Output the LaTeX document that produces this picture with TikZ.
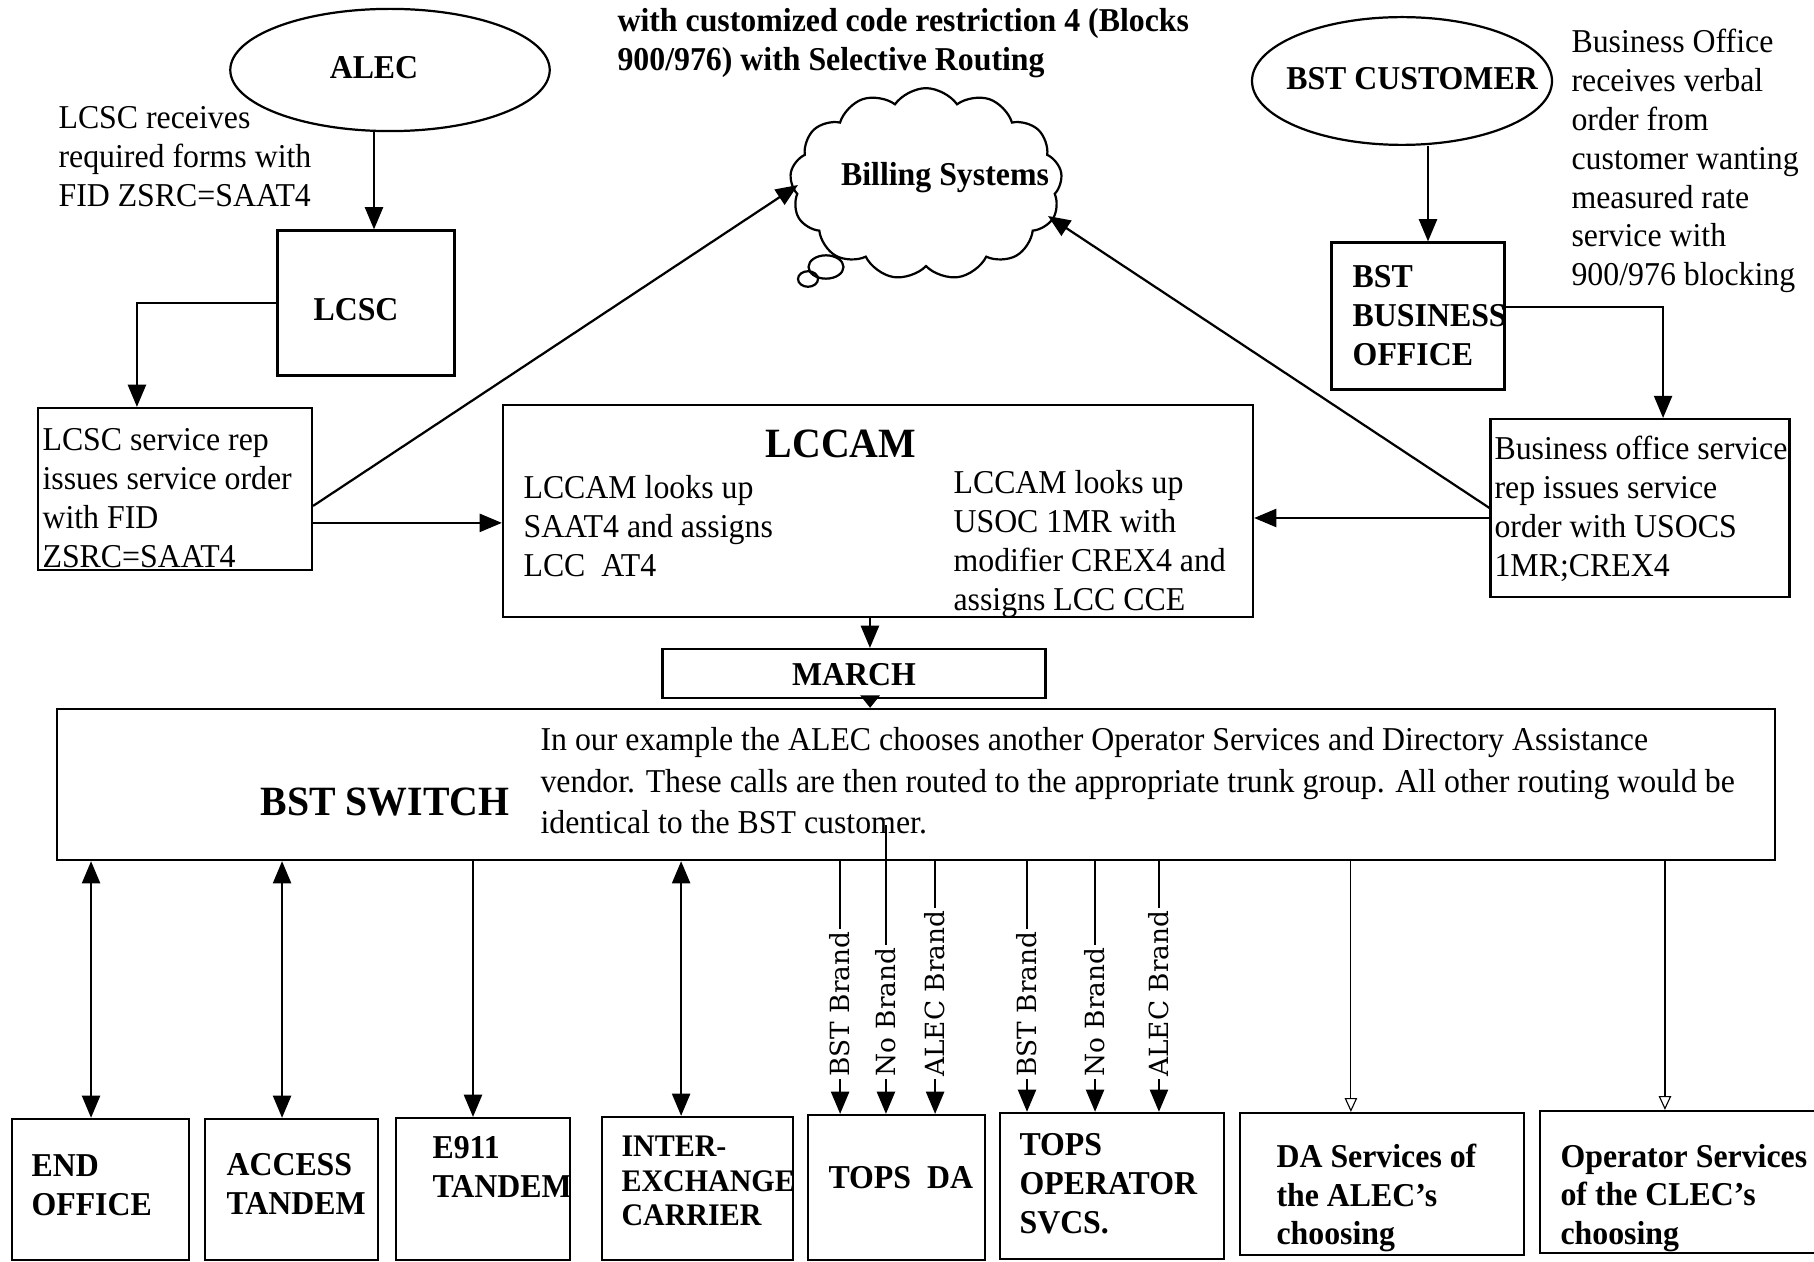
\documentclass[tikz,border=0pt]{standalone}
\usepackage{fontspec}
\setmainfont{Liberation Serif}[FakeStretch=0.955]
\newfontfamily\brandfont{DejaVu Serif}
\usetikzlibrary{arrows.meta, shapes.geometric, shapes.symbols}

\tikzset{
  box/.style={draw, line width=0.8pt, rectangle, inner sep=0pt},
  ovale/.style={draw, line width=0.8pt, ellipse, inner sep=0pt},
  txt/.style={align=flush left, inner sep=0pt, font=\fontsize{12}{14}\selectfont},
  btxt/.style={align=flush left, inner sep=0pt, font=\fontsize{12}{14}\selectfont\bfseries},
  gros/.style={inner sep=0pt, font=\fontsize{15}{17}\selectfont\bfseries},
  brand/.style={rotate=90, anchor=west, fill=white, inner sep=1pt, font=\brandfont\fontsize{9.5}{11}\selectfont},
  fleche/.style={-{Triangle[length=8pt,width=6.5pt]}, line width=0.8pt},
  fleches/.style={{Triangle[length=8pt,width=6.5pt]}-{Triangle[length=8pt,width=6.5pt]}, line width=0.8pt},
  fine/.style={-{Triangle[open,length=5pt,width=4.5pt]}, line width=0.4pt}
}

\begin{document}
\begin{tikzpicture}[x=0.36pt, y=-0.36pt]
        \useasboundingbox (0,0) rectangle (1814,1262);

        % Titre
        \node[btxt, anchor=west] (titre) at (617,43) {with customized code restriction 4 (Blocks\\900/976) with Selective Routing};

        % Cote ALEC
        \node[ovale, minimum width=115pt, minimum height=44pt] (alec) at (390,70) {};
        \node[btxt] (alectxt) at (374,68) {ALEC};
        \node[txt, anchor=west] (alecnote) at (58,157) {LCSC receives\\required forms with\\FID ZSRC=SAAT4};
        \node[box, minimum width=63.7pt, minimum height=52.2pt] (lcsc) at (366,303) {};
        \node[btxt] (lcsctxt) at (356,310) {LCSC};
        \node[box, minimum width=98.6pt, minimum height=58.3pt] (lcscrep) at (175,489) {};
        \node[txt, anchor=west] (lcscreptxt) at (42,498) {LCSC service rep\\issues service order\\with FID\\ZSRC=SAAT4};

        % Bulle facturation
        \node[cloud, draw, line width=0.8pt, cloud puffs=13, cloud puff arc=110, cloud ignores aspect,
              minimum width=98pt, minimum height=69pt] (billing) at (926,184) {};
        \draw[line width=0.8pt] (826,267) ellipse [x radius=6.3pt, y radius=4.2pt];
        \draw[line width=0.8pt] (808,279) ellipse [x radius=3.6pt, y radius=2.8pt];
        \node[btxt] (billtxt) at (945,178) {Billing Systems};
        \coordinate (billL) at (798,185);
        \coordinate (billR) at (1048,216);

        % Cote BST
        \node[ovale, minimum width=108pt, minimum height=46pt] (bstcust) at (1402,81) {};
        \node[btxt] (bstcusttxt) at (1412,79) {BST CUSTOMER};
        \node[txt, anchor=west] (busnote) at (1571,161) {Business Office\\receives verbal\\order from\\customer wanting\\measured rate\\service with\\900/976 blocking};
        \node[box, btxt, inner xsep=7.6pt, minimum width=62.3pt, minimum height=52.9pt, text width=47pt] (bizoff) at (1418,316) {BST\\BUSINESS\\OFFICE};
        \node[box, minimum width=107.6pt, minimum height=64pt] (busrep) at (1640,508) {};
        \node[txt, anchor=west] (busreptxt) at (1494,509) {Business office service\\rep issues service\\order with USOCS\\1MR;CREX4};

        % LCCAM
        \node[box, minimum width=270pt, minimum height=76.3pt] (lccam) at (878,511) {};
        \node[gros] (lccamtitre) at (841,444) {LCCAM};
        \node[txt, anchor=west] (lccamg) at (523,526) {LCCAM looks up\\SAAT4 and assigns\\LCC~ AT4};
        \node[txt, anchor=west] (lccamd) at (953,544) {LCCAM looks up\\USOC 1MR with\\modifier CREX4 and\\assigns LCC CCE};

        % MARCH et commutateur
        \node[box, minimum width=137.9pt, minimum height=17.6pt] (march) at (854,673.5) {};
        \node[btxt] (marchtxt) at (854,675) {MARCH};
        \node[box, minimum width=618.5pt, minimum height=54.4pt] (switch) at (916,784.5) {};
        \node[gros] (switchtitre) at (385,802) {BST SWITCH};
        \node[txt, anchor=west, font=\fontsize{12}{15}\selectfont] (switchtxt) at (540,781)
            {In our example the ALEC chooses another Operator Services and Directory Assistance\\
             vendor. These calls are then routed to the appropriate trunk group. All other routing would be\\
             identical to the BST customer.};

        % Boites du bas
        \node[box, minimum width=63.7pt, minimum height=50.8pt] (endoff) at (100.5,1189.5) {};
        \node[btxt, anchor=west] (endofftxt) at (31,1185) {END\\OFFICE};
        \node[box, minimum width=62.3pt, minimum height=50.8pt] (acctan) at (291.5,1189.5) {};
        \node[btxt, anchor=west] (acctantxt) at (226,1184) {ACCESS\\TANDEM};
        \node[box, minimum width=62.6pt, minimum height=51.1pt] (etan) at (483,1189) {};
        \node[btxt, anchor=west] (etantxt) at (432,1167) {E911\\TANDEM};
        \node[box, minimum width=68.8pt, minimum height=51.5pt] (ixc) at (697.5,1188.5) {};
        \node[btxt, anchor=west, font=\fontsize{11.3}{12.5}\selectfont\bfseries] (ixctxt) at (621,1181) {INTER-\\EXCHANGE\\CARRIER};
        \node[box, minimum width=63.7pt, minimum height=52.2pt] (topsda) at (896.5,1187.5) {};
        \node[btxt, anchor=west] (topsdatxt) at (828,1178) {TOPS~ DA};
        \node[box, minimum width=80.6pt, minimum height=52.6pt] (topsop) at (1112,1186) {};
        \node[btxt, anchor=west] (topsoptxt) at (1019,1184) {TOPS\\OPERATOR\\SVCS.};
        \node[box, minimum width=102.2pt, minimum height=51.1pt] (dasvc) at (1382,1184) {};
        \node[btxt, anchor=west] (dasvctxt) at (1276,1198) {DA Services of\\the ALEC's\\choosing};
        \node[box, minimum width=99.4pt, minimum height=51.1pt] (opsvc) at (1678,1182) {};
        \node[btxt, anchor=west] (opsvctxt) at (1560,1198) {Operator Services\\of the CLEC's\\choosing};

        % Fleches du haut
        \draw[fleche] (alectxt.center |- alec.south) -- (alectxt.center |- lcsc.north);
        \draw[fleche] (lcsc.west) -| ([xshift=-13.7pt]lcscrep.north);
        \coordinate (repout) at ([yshift=-12.2pt]lcscrep.east);
        \draw[fleche] (repout) -- (repout -| lccam.west);
        \draw[fleche] ([yshift=-6.1pt]lcscrep.east) -- (billL);
        \draw[fleche] ([xshift=3.6pt]bizoff.north |- bstcust.south) -- ([xshift=3.6pt]bizoff.north);
        \draw[fleche] ([yshift=3.2pt]bizoff.east) -| ([xshift=8.3pt]busrep.north);
        \coordinate (busout) at ([yshift=-3.6pt]busrep.west);
        \draw[fleche] (busout) -- (busout -| lccam.east);
        \draw[fleche] (busrep.west) -- (billR);
        \draw[fleche] ([xshift=-2.9pt]lccam.south) -- ([xshift=-2.9pt]lccam.south |- march.north);
        \draw[-{Triangle[length=4.5pt,width=7pt]}, line width=0.8pt] ([xshift=5.8pt]march.south) -- ([xshift=5.8pt]march.south |- switch.north);

        % Fleches du bas
        \draw[fleches] ([xshift=-3.4pt]endoff.north |- switch.south) -- ([xshift=-3.4pt]endoff.north);
        \draw[fleches] ([xshift=-3.4pt]acctan.north |- switch.south) -- ([xshift=-3.4pt]acctan.north);
        \draw[fleche] ([xshift=-3.6pt]etan.north |- switch.south) -- ([xshift=-3.6pt]etan.north);
        \draw[fleches] ([xshift=-5.9pt]ixc.north |- switch.south) -- ([xshift=-5.9pt]ixc.north);

        \draw[fleche] ([xshift=-20.3pt]topsda.north |- switch.south) -- ([xshift=-20.3pt]topsda.north);
        \draw[fleche] ([xshift=-3.8pt, yshift=13pt]topsda.north |- switch.south) -- ([xshift=-3.8pt]topsda.north);
        \draw[fleche] ([xshift=13.9pt]topsda.north |- switch.south) -- ([xshift=13.9pt]topsda.north);
        \node[brand] (dabst) at ([xshift=-20.3pt]topsda.north |- 0,1080) {BST Brand};
        \node[brand] (dano) at ([xshift=-3.8pt]topsda.north |- 0,1080) {No Brand};
        \node[brand] (daalec) at ([xshift=13.9pt]topsda.north |- 0,1080) {ALEC Brand};

        \draw[fleche] ([xshift=-30.6pt]topsop.north |- switch.south) -- ([xshift=-30.6pt]topsop.north);
        \draw[fleche] ([xshift=-6.1pt]topsop.north |- switch.south) -- ([xshift=-6.1pt]topsop.north);
        \draw[fleche] ([xshift=16.9pt]topsop.north |- switch.south) -- ([xshift=16.9pt]topsop.north);
        \node[brand] (opbst) at ([xshift=-30.6pt]topsop.north |- 0,1080) {BST Brand};
        \node[brand] (opno) at ([xshift=-6.1pt]topsop.north |- 0,1080) {No Brand};
        \node[brand] (opalec) at ([xshift=16.9pt]topsop.north |- 0,1080) {ALEC Brand};

        \draw[fine] ([xshift=-11.2pt]dasvc.north |- switch.south) -- ([xshift=-11.2pt]dasvc.north);
        \draw[fine] ([xshift=-4.7pt]opsvc.north |- switch.south) -- ([xshift=-4.7pt]opsvc.north);
    \end{tikzpicture}
\end{document}
